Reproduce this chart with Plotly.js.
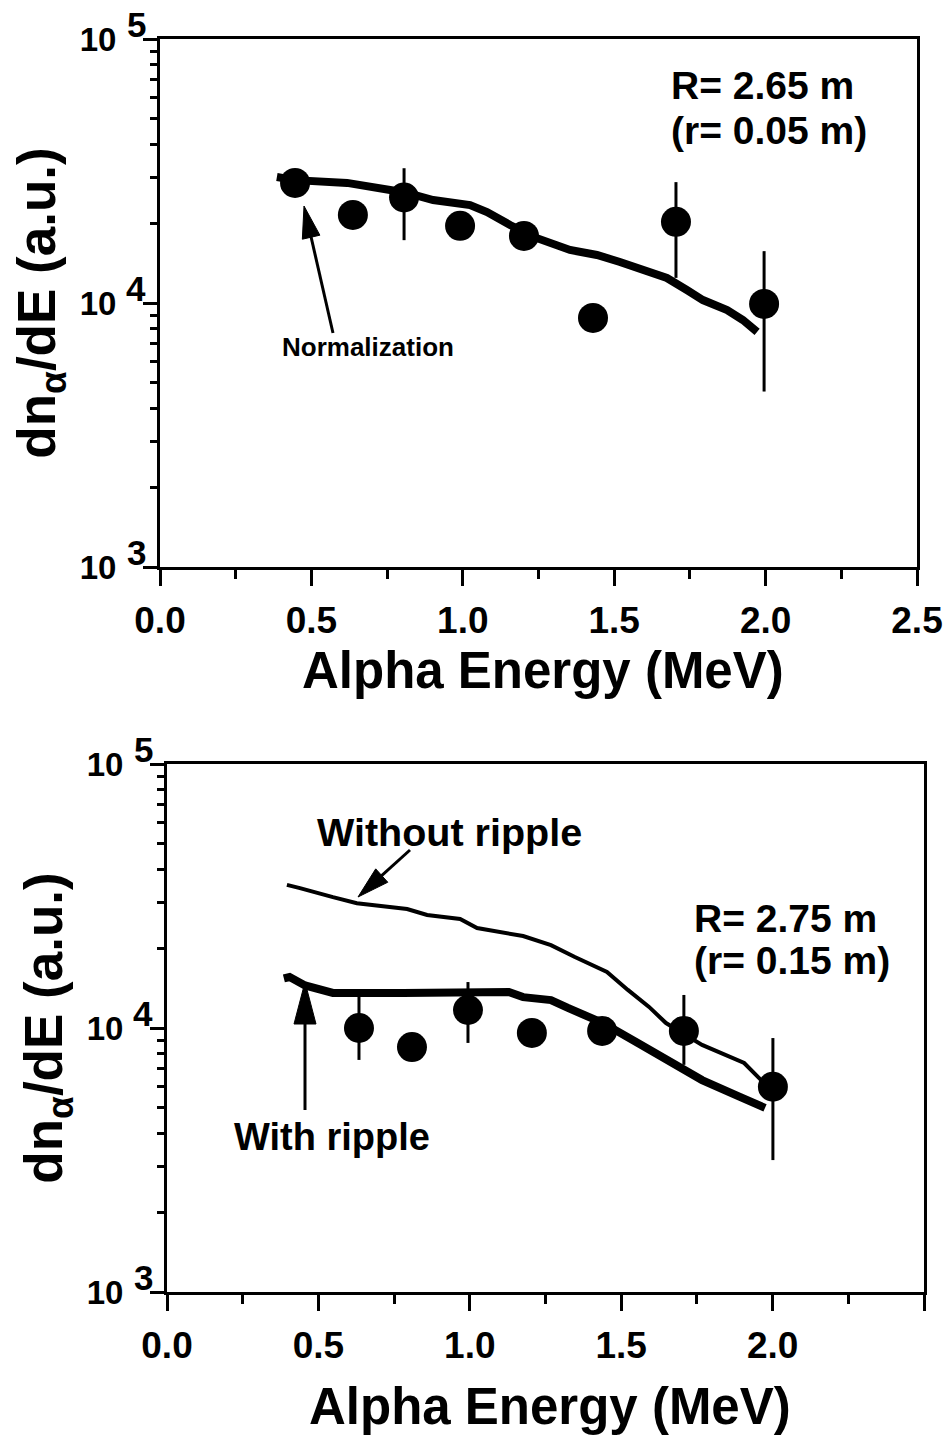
<!DOCTYPE html>
<html><head><meta charset="utf-8">
<script src="https://cdn.plot.ly/plotly-3.0.1.min.js"></script>
<style>html,body{margin:0;padding:0;background:#fff;}#chart{width:947px;height:1444px;}</style>
</head><body><div id="chart"></div>
<script>
// ---------- DATA ----------
// Panel 1: R = 2.65 m (r = 0.05 m)
const measEnergyTop = [0.446, 0.637, 0.806, 0.991, 1.202, 1.430, 1.704, 1.995];
const measFluxTop   = [28500, 21550, 25100, 19600, 17950, 8780, 20300, 9920];
const measErrPlusTop  = [null, null, 7300, null, null, null, 8400, 5800];
const measErrMinusTop = [null, null, 7800, null, null, null, 7850, 5300];
const calcEnergyTop = [0.386, 0.446, 0.618, 0.684, 0.760, 0.816, 0.902, 1.024, 1.080, 1.156, 1.245, 1.354, 1.443, 1.519, 1.608, 1.674, 1.740, 1.793, 1.873, 1.925, 1.972];
const calcFluxTop   = [30000, 29200, 28500, 27500, 26800, 26100, 24550, 23500, 22100, 19750, 17600, 15880, 15200, 14300, 13330, 12440, 11200, 10260, 9400, 8620, 7770];

// Panel 2: R = 2.75 m (r = 0.15 m)
const measEnergyBot = [0.634, 0.809, 0.994, 1.205, 1.437, 1.707, 2.001];
const measFluxBot   = [10000, 8470, 11700, 9580, 9750, 9750, 5990];
const measErrPlusBot  = [3340, null, 3230, null, null, 3590, 3170];
const measErrMinusBot = [2430, null, 2920, null, null, 2500, 2830];
const noRippleEnergy = [0.396, 0.439, 0.548, 0.627, 0.793, 0.859, 0.968, 1.024, 1.176, 1.268, 1.347, 1.453, 1.522, 1.592, 1.648, 1.767, 1.906, 1.962, 1.991];
const noRippleFlux   = [34830, 33880, 31300, 29700, 28240, 26800, 25900, 23920, 22300, 20600, 18570, 16300, 13940, 12020, 10440, 8630, 7370, 6350, 6190];
const rippleEnergy = [0.386, 0.405, 0.456, 0.548, 0.779, 1.129, 1.176, 1.268, 1.324, 1.440, 1.555, 1.674, 1.767, 1.892, 1.975];
const rippleFlux   = [15400, 15600, 14500, 13580, 13580, 13690, 13090, 12760, 11910, 10440, 8780, 7370, 6350, 5480, 4980];

// Tick labels (base "10" on the axis, full-size exponent beside it, as in the reference)
const yTickVals = [1000, 10000, 100000];
const yTickBase = ['10', '10', '10'];
const yTickExp  = ['3', '4', '5'];
const yMinorVals = [2000,3000,4000,5000,6000,7000,8000,9000,20000,30000,40000,50000,60000,70000,80000,90000];
const xMinorVals = [0.25, 0.75, 1.25, 1.75, 2.25];
const xTitle = 'Alpha Energy (MeV)';
const yTitle = 'dn<sub>α</sub>/dE (a.u.)';

// ---------- LAYOUT ----------
const W = 947, H = 1444;
const fx = p => p / W, fy = p => 1 - p / H;
const FONT = 'Liberation Sans, Arial, Helvetica, sans-serif';
const boxTop = {l:160, r:917, t:39, b:567};
const boxBot = {l:167, r:924, t:764, b:1292};

function xAxis(box, anchor) {
  return {
    domain: [fx(box.l), fx(box.r)], anchor: anchor,
    range: [0, 2.5], tick0: 0, dtick: 0.5, tickformat: '.1f',
    ticks: 'outside', ticklen: 16, tickwidth: 3, tickcolor: 'black',
    ticklabelstandoff: 3,
    showline: true, linewidth: 3, linecolor: 'black', mirror: true,
    showgrid: false, zeroline: false,
    tickfont: {family: FONT, size: 37, color: 'black', weight: 'bold'},
    minor: {tickmode: 'array', tickvals: xMinorVals, ticks: 'outside', ticklen: 9, tickwidth: 3, tickcolor: 'black', showgrid: false}
  };
}
function yAxis(box, anchor) {
  return {
    domain: [fy(box.b), fy(box.t)], anchor: anchor,
    type: 'log', range: [3, 5],
    tickmode: 'array', tickvals: yTickVals, ticktext: yTickBase,
    ticks: 'outside', ticklen: 14, tickwidth: 3, tickcolor: 'black',
    ticklabelstandoff: 20,
    showline: true, linewidth: 3, linecolor: 'black', mirror: true,
    showgrid: false, zeroline: false,
    tickfont: {family: FONT, size: 33, color: 'black', weight: 'bold'},
    minor: {tickmode: 'array', tickvals: yMinorVals, ticks: 'outside', ticklen: 7, tickwidth: 3, tickcolor: 'black', showgrid: false},
    title: {text: yTitle, font: {family: FONT, size: 53, color: 'black', weight: 'bold'}, standoff: 8}
  };
}

function arrow(tail, tip, L, w) {
  const dx = tip[0] - tail[0], dy = tip[1] - tail[1];
  const len = Math.hypot(dx, dy), ux = dx / len, uy = dy / len;
  const bx = tip[0] - L * ux, by = tip[1] - L * uy;
  const nx = -uy, ny = ux;
  const P = (x, y) => fx(x) + ',' + fy(y);
  return [
    {type: 'path', xref: 'paper', yref: 'paper', path: 'M' + P(tail[0], tail[1]) + 'L' + P(bx + ux * 2, by + uy * 2),
     line: {color: 'black', width: 3}},
    {type: 'path', xref: 'paper', yref: 'paper',
     path: 'M' + P(tip[0], tip[1]) + 'L' + P(bx + w * nx, by + w * ny) + 'L' + P(bx - w * nx, by - w * ny) + 'Z',
     fillcolor: 'black', line: {color: 'black', width: 1}}
  ];
}

function label(text, left, cy, size, anchor) {
  return {xref: 'paper', yref: 'paper', x: fx(left), y: fy(cy), xanchor: anchor || 'left', yanchor: 'middle',
          text: text, showarrow: false, font: {family: FONT, size: size, color: 'black', weight: 'bold'}};
}
// exponent of each "10" tick label, tied to the log axis position of its tick
function exponents(yref, box) {
  return yTickVals.map((v, i) => ({
    xref: 'paper', yref: yref, x: fx(box.l - 12), y: Math.log10(v), yshift: 15,
    xanchor: 'right', yanchor: 'middle', showarrow: false, text: yTickExp[i],
    font: {family: FONT, size: 35, color: 'black', weight: 'bold'}
  }));
}

const errStyle = (plus, minus) => ({type: 'data', symmetric: false, array: plus, arrayminus: minus,
  visible: true, thickness: 3, width: 0, color: 'black'});

const traces = [
  {x: calcEnergyTop, y: calcFluxTop, xaxis: 'x', yaxis: 'y', mode: 'lines', line: {color: 'black', width: 8}},
  {x: measEnergyTop, y: measFluxTop, xaxis: 'x', yaxis: 'y', mode: 'markers',
   marker: {color: 'black', size: 30, symbol: 'circle'}, error_y: errStyle(measErrPlusTop, measErrMinusTop)},
  {x: noRippleEnergy, y: noRippleFlux, xaxis: 'x2', yaxis: 'y2', mode: 'lines', line: {color: 'black', width: 4}},
  {x: rippleEnergy, y: rippleFlux, xaxis: 'x2', yaxis: 'y2', mode: 'lines', line: {color: 'black', width: 8}},
  {x: measEnergyBot, y: measFluxBot, xaxis: 'x2', yaxis: 'y2', mode: 'markers',
   marker: {color: 'black', size: 30, symbol: 'circle'}, error_y: errStyle(measErrPlusBot, measErrMinusBot)}
];

const layout = {
  width: W, height: H, margin: {l: 0, r: 0, t: 0, b: 0},
  paper_bgcolor: 'white', plot_bgcolor: 'white', showlegend: false,
  font: {family: FONT, color: 'black'},
  xaxis: xAxis(boxTop, 'y'), yaxis: yAxis(boxTop, 'x'),
  xaxis2: xAxis(boxBot, 'y2'), yaxis2: yAxis(boxBot, 'x2'),
  annotations: [].concat(exponents('y', boxTop), exponents('y2', boxBot), [
    label(xTitle, (boxTop.l + boxTop.r) / 2 + 4, 670, 51, 'center'),
    label(xTitle, (boxBot.l + boxBot.r) / 2 + 4, 1406, 51, 'center'),
    label('R= 2.65 m', 669, 86, 39),
    label('(r= 0.05 m)', 669, 130, 39),
    label('Normalization', 280, 347, 26),
    label('R= 2.75 m', 692, 918, 39),
    label('(r= 0.15 m)', 692, 960, 39),
    label('Without ripple', 315, 832, 39.5),
    label('With ripple', 232, 1137, 38)
  ]),
  shapes: [].concat(
    arrow([333, 333], [304, 206], 32, 9),
    arrow([410, 850], [358, 897], 32, 9),
    arrow([305, 1110], [305, 982], 42, 11)
  )
};

Plotly.newPlot('chart', traces, layout, {staticPlot: true, displayModeBar: false});
</script>
</body></html>
